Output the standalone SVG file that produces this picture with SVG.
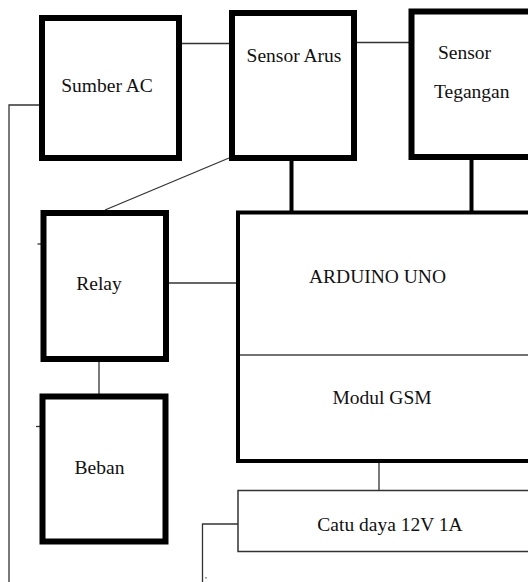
<svg xmlns="http://www.w3.org/2000/svg" width="528" height="582" viewBox="0 0 528 582">
<style>
.thick{fill:#fff;stroke:#000;stroke-width:6}
.med{fill:#fff;stroke:#000;stroke-width:4}
.thin{fill:#fff;stroke:#333;stroke-width:1.5}
.ln{fill:none;stroke:#333;stroke-width:1.3}
.bar{fill:none;stroke:#000;stroke-width:4}
.t{font-family:'Liberation Serif','Times New Roman',Times,'DejaVu Serif',serif;font-size:19.5px;fill:#111}
</style>
<rect width="528" height="582" fill="#fff"/>
<g id="connectors">
<line class="ln" x1="182" y1="43.5" x2="229" y2="43.5"/>
<line class="ln" x1="357" y1="42.5" x2="409" y2="42.5"/>
<line class="bar" x1="291.5" y1="160" x2="291.5" y2="213"/>
<line class="bar" x1="471.5" y1="159" x2="471.5" y2="213"/>
<line class="ln" x1="229" y1="158" x2="105" y2="210"/>
<line class="ln" x1="169" y1="283" x2="236" y2="283"/>
<line class="ln" x1="99" y1="362" x2="99" y2="394"/>
<polyline class="ln" points="39,105 9,105 9,582"/>
<line class="ln" x1="37.5" y1="244" x2="41" y2="244"/>
<line class="ln" x1="36" y1="426.5" x2="40" y2="426.5"/>
<line class="ln" x1="379" y1="463" x2="379" y2="490"/>
<polyline class="ln" points="238,524 202.5,524 202.5,582"/>
<rect x="205.5" y="577" width="1" height="1.5" fill="#333"/>
</g>
<g id="sumber-ac">
<rect class="thick" x="42" y="18" width="137" height="140"/>
<text class="t" x="107" y="92" text-anchor="middle">Sumber AC</text>
</g>
<g id="sensor-arus">
<rect class="thick" x="232" y="13" width="122" height="145"/>
<text class="t" x="294" y="62" text-anchor="middle">Sensor Arus</text>
</g>
<g id="sensor-tegangan">
<rect class="thick" x="411.5" y="11.5" width="130" height="145.5"/>
<text class="t" x="438" y="58.5">Sensor</text>
<text class="t" x="434" y="98">Tegangan</text>
</g>
<g id="relay">
<rect class="thick" x="43.5" y="213" width="122.5" height="146"/>
<text class="t" x="99" y="290" text-anchor="middle">Relay</text>
</g>
<g id="beban">
<rect class="thick" x="42.5" y="396.5" width="123" height="145"/>
<text class="t" x="99.5" y="474" text-anchor="middle">Beban</text>
</g>
<g id="arduino">
<rect class="med" x="238" y="212.5" width="300" height="248.5"/>
<line x1="240" y1="355" x2="528" y2="355" stroke="#444" stroke-width="1.5"/>
<text class="t" x="377.5" y="283" text-anchor="middle">ARDUINO UNO</text>
<text class="t" x="382" y="404" text-anchor="middle">Modul GSM</text>
</g>
<g id="catu-daya">
<rect class="thin" x="238" y="490.5" width="300" height="61"/>
<text class="t" x="390" y="531" text-anchor="middle">Catu daya 12V 1A</text>
</g>
</svg>
